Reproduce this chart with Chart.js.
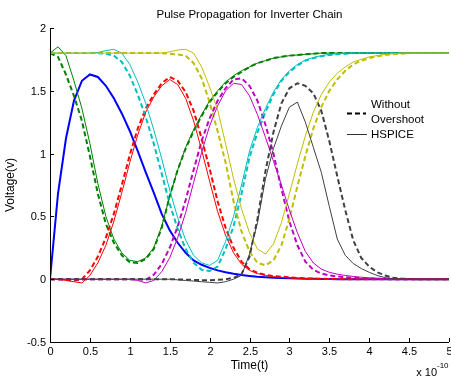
<!DOCTYPE html>
<html>
<head>
<meta charset="utf-8">
<script src="https://cdn.jsdelivr.net/npm/chart.js@4.4.1/dist/chart.umd.min.js"></script>
<style>
body { margin: 0; background: #fff; }
#marco { width: 451px; height: 379px; }
</style>
</head>
<body>
<div id="marco"><canvas id="grafica" width="451" height="379"></canvas></div>
<script>
// tiempo en unidades de 1e-10 s
const tiempos = [0, 0.1, 0.2, 0.3, 0.4, 0.5, 0.6, 0.7, 0.8, 0.9,
    1.0, 1.1, 1.2, 1.3, 1.4, 1.5, 1.6, 1.7, 1.8, 1.9,
    2.0, 2.1, 2.2, 2.3, 2.4, 2.5, 2.6, 2.7, 2.8, 2.9,
    3.0, 3.1, 3.2, 3.3, 3.4, 3.5, 3.6, 3.7, 3.8, 3.9,
    4.0, 4.1, 4.2, 4.3, 4.4, 4.5, 4.6, 4.7, 4.8, 4.9, 5.0];

const azul = [0, 0.68, 1.12, 1.42, 1.58, 1.63, 1.61, 1.54, 1.44, 1.32,
    1.18, 1.02, 0.85, 0.69, 0.52, 0.39, 0.29, 0.21, 0.15, 0.115,
    0.09, 0.07, 0.055, 0.043, 0.033, 0.026, 0.02, 0.016, 0.012, 0.009,
    0.007, 0.005, 0.004, 0.003, 0.002, 0.001, 0, 0, 0, 0,
    0, 0, 0, 0, 0, 0, 0, 0, 0, 0, 0];

const verdeSin = [1.8, 1.77, 1.63, 1.46, 1.26, 0.98, 0.68, 0.44, 0.29, 0.19,
    0.135, 0.13, 0.16, 0.24, 0.41, 0.66, 0.87, 1.04, 1.18, 1.30,
    1.41, 1.49, 1.56, 1.61, 1.65, 1.69, 1.72, 1.74, 1.76, 1.77,
    1.78, 1.785, 1.79, 1.795, 1.8, 1.8, 1.8, 1.8, 1.8, 1.8,
    1.8, 1.8, 1.8, 1.8, 1.8, 1.8, 1.8, 1.8, 1.8, 1.8, 1.8];
const verdeHspice = [1.8, 1.85, 1.78, 1.58, 1.36, 1.08, 0.76, 0.50, 0.32, 0.21,
    0.15, 0.14, 0.17, 0.25, 0.42, 0.66, 0.87, 1.05, 1.19, 1.31,
    1.42, 1.50, 1.57, 1.62, 1.66, 1.69, 1.72, 1.74, 1.76, 1.77,
    1.78, 1.785, 1.79, 1.795, 1.8, 1.8, 1.8, 1.8, 1.8, 1.8,
    1.8, 1.8, 1.8, 1.8, 1.8, 1.8, 1.8, 1.8, 1.8, 1.8, 1.8];

const rojoSin = [0, 0, -0.005, -0.01, 0, 0.07, 0.18, 0.33, 0.52, 0.75,
    0.99, 1.20, 1.36, 1.47, 1.56, 1.61, 1.58, 1.49, 1.34, 1.12,
    0.88, 0.62, 0.41, 0.25, 0.14, 0.08, 0.05, 0.035, 0.025, 0.02,
    0.015, 0.01, 0.007, 0.005, 0.003, 0.002, 0.001, 0, 0, 0,
    0, 0, 0, 0, 0, 0, 0, 0, 0, 0, 0];
const rojoHspice = [0, 0, -0.01, -0.02, -0.03, 0.03, 0.13, 0.27, 0.46, 0.69,
    0.93, 1.15, 1.33, 1.45, 1.54, 1.59, 1.55, 1.44, 1.26, 1.03,
    0.78, 0.54, 0.35, 0.21, 0.12, 0.07, 0.045, 0.03, 0.02, 0.015,
    0.01, 0.007, 0.005, 0.003, 0.002, 0.001, 0, 0, 0, 0,
    0, 0, 0, 0, 0, 0, 0, 0, 0, 0, 0];

const cianSin = [1.8, 1.8, 1.8, 1.8, 1.8, 1.8, 1.8, 1.795, 1.78, 1.73,
    1.62, 1.47, 1.29, 1.08, 0.84, 0.60, 0.40, 0.24, 0.13, 0.075,
    0.065, 0.10, 0.24, 0.42, 0.68, 0.97, 1.17, 1.33, 1.47, 1.58,
    1.65, 1.70, 1.74, 1.76, 1.775, 1.785, 1.79, 1.795, 1.8, 1.8,
    1.8, 1.8, 1.8, 1.8, 1.8, 1.8, 1.8, 1.8, 1.8, 1.8, 1.8];
const cianHspice = [1.8, 1.8, 1.8, 1.8, 1.8, 1.8, 1.805, 1.82, 1.83, 1.80,
    1.71, 1.57, 1.40, 1.19, 0.96, 0.71, 0.49, 0.31, 0.19, 0.13,
    0.11, 0.15, 0.30, 0.50, 0.75, 1.02, 1.21, 1.36, 1.49, 1.59,
    1.66, 1.71, 1.745, 1.765, 1.78, 1.79, 1.795, 1.8, 1.8, 1.8,
    1.8, 1.8, 1.8, 1.8, 1.8, 1.8, 1.8, 1.8, 1.8, 1.8, 1.8];

const magentaSin = [0, 0, 0, 0, 0, 0, 0, 0, 0, 0,
    0, 0, -0.005, 0.035, 0.12, 0.25, 0.42, 0.63, 0.87, 1.10,
    1.28, 1.42, 1.52, 1.59, 1.60, 1.54, 1.42, 1.23, 1.00, 0.72,
    0.46, 0.27, 0.14, 0.075, 0.045, 0.03, 0.022, 0.016, 0.011, 0.008,
    0.005, 0.003, 0.002, 0, 0, 0, 0, 0, 0, 0, 0];
const magentaHspice = [0, 0, 0, 0, 0, 0, 0, 0, 0, 0,
    0, -0.01, -0.03, -0.01, 0.06, 0.17, 0.33, 0.53, 0.77, 1.01,
    1.22, 1.38, 1.50, 1.56, 1.55, 1.46, 1.31, 1.13, 0.94, 0.75,
    0.55, 0.37, 0.22, 0.13, 0.08, 0.055, 0.04, 0.03, 0.022, 0.016,
    0.011, 0.008, 0.005, 0.003, 0.002, 0, 0, 0, 0, 0, 0];

const amarilloSin = [1.8, 1.8, 1.8, 1.8, 1.8, 1.8, 1.8, 1.8, 1.8, 1.8,
    1.8, 1.8, 1.8, 1.8, 1.8, 1.795, 1.79, 1.78, 1.72, 1.60,
    1.41, 1.18, 0.93, 0.62, 0.38, 0.22, 0.13, 0.11, 0.15, 0.27,
    0.48, 0.74, 0.98, 1.20, 1.37, 1.50, 1.59, 1.66, 1.71, 1.74,
    1.76, 1.775, 1.785, 1.79, 1.795, 1.8, 1.8, 1.8, 1.8, 1.8, 1.8];
const amarilloHspice = [1.8, 1.8, 1.8, 1.8, 1.8, 1.8, 1.8, 1.8, 1.8, 1.8,
    1.8, 1.8, 1.8, 1.8, 1.8, 1.81, 1.825, 1.83, 1.80, 1.69,
    1.53, 1.35, 1.08, 0.80, 0.56, 0.37, 0.24, 0.20, 0.28, 0.45,
    0.68, 0.92, 1.14, 1.33, 1.47, 1.57, 1.64, 1.69, 1.73, 1.75,
    1.77, 1.78, 1.79, 1.795, 1.8, 1.8, 1.8, 1.8, 1.8, 1.8, 1.8];

const negroSin = [0, 0, 0, 0, 0, 0, 0, 0, 0, 0,
    0, 0, 0, 0, 0, 0, -0.002, -0.004, -0.006, -0.008,
    -0.008, -0.005, 0, 0.01, 0.04, 0.18, 0.48, 0.86, 1.17, 1.40,
    1.52, 1.56, 1.54, 1.48, 1.34, 1.10, 0.82, 0.55, 0.31, 0.17,
    0.10, 0.055, 0.03, 0.012, 0.005, 0.002, 0, 0, 0, 0, 0];
const negroHspice = [0, 0, 0, 0, 0, 0, 0, 0, 0, 0,
    0, 0, 0, 0, 0, 0, -0.005, -0.01, -0.015, -0.02,
    -0.025, -0.03, -0.02, 0, 0.03, 0.20, 0.45, 0.80, 1.04, 1.22,
    1.37, 1.41, 1.25, 1.05, 0.85, 0.58, 0.32, 0.19, 0.125, 0.085,
    0.055, 0.03, 0.012, 0.005, 0.002, 0, 0, 0, 0, 0, 0];

const marcasX = [0, 0.5, 1, 1.5, 2, 2.5, 3, 3.5, 4, 4.5, 5];
const etiquetasX = ['0', '0.5', '1', '1.5', '2', '2.5', '3', '3.5', '4', '4.5', '5'];
const marcasY = [-0.5, 0, 0.5, 1, 1.5, 2];
const etiquetasY = ['-0.5', '0', '0.5', '1', '1.5', '2'];

const fuente = '"Liberation Sans", Arial, sans-serif';

function puntos(valores) {
    return tiempos.map((t, i) => ({ x: t, y: valores[i] }));
}

function serie(valores, color, grueso) {
    return {
        data: puntos(valores),
        borderColor: color,
        borderWidth: grueso ? 2 : 1,
        borderDash: grueso ? [5, 3] : [],
        pointRadius: 0,
        tension: 0,
        fill: false
    };
}

const ejesMatlab = {
    id: 'ejesMatlab',
    afterDraw(chart) {
        const ctx = chart.ctx;
        const area = chart.chartArea;
        const xs = chart.scales.x;
        const ys = chart.scales.y;
        ctx.save();
        ctx.strokeStyle = '#000';
        ctx.lineWidth = 1;
        ctx.setLineDash([]);
        ctx.beginPath();
        ctx.moveTo(area.left + 0.5, area.top);
        ctx.lineTo(area.left + 0.5, area.bottom + 0.5);
        ctx.lineTo(area.right, area.bottom + 0.5);
        ctx.stroke();

        ctx.fillStyle = '#000';
        ctx.font = '11px ' + fuente;
        ctx.textBaseline = 'middle';
        ctx.textAlign = 'center';
        marcasX.forEach((v, i) => {
            const px = Math.round(xs.getPixelForValue(v)) + 0.5;
            ctx.beginPath();
            ctx.moveTo(px, area.bottom);
            ctx.lineTo(px, area.bottom - 4);
            ctx.stroke();
            ctx.fillText(etiquetasX[i], px, area.bottom + 10);
        });
        ctx.textAlign = 'right';
        marcasY.forEach((v, i) => {
            const py = Math.round(ys.getPixelForValue(v)) + 0.5;
            ctx.beginPath();
            ctx.moveTo(area.left, py);
            ctx.lineTo(area.left + 4, py);
            ctx.stroke();
            ctx.fillText(etiquetasY[i], area.left - 4, py);
        });

        ctx.textAlign = 'center';
        ctx.font = '11.5px ' + fuente;
        ctx.fillText('Pulse Propagation for Inverter Chain', (area.left + area.right) / 2, 15);
        ctx.font = '12px ' + fuente;
        ctx.fillText('Time(t)', (area.left + area.right) / 2, 366);
        ctx.save();
        ctx.translate(11, 185);
        ctx.rotate(-Math.PI / 2);
        ctx.fillText('Voltage(v)', 0, 0);
        ctx.restore();

        ctx.font = '11px ' + fuente;
        ctx.textAlign = 'right';
        ctx.fillText('x 10', 437, 373);
        ctx.textAlign = 'left';
        ctx.font = '8px ' + fuente;
        ctx.fillText('-10', 437, 366);

        // leyenda
        ctx.font = '11.5px ' + fuente;
        ctx.fillText('Without', 371, 105);
        ctx.fillText('Overshoot', 371, 120);
        ctx.fillText('HSPICE', 371, 135);
        ctx.strokeStyle = '#000';
        ctx.lineWidth = 2;
        ctx.setLineDash([5, 3]);
        ctx.beginPath();
        ctx.moveTo(347, 113.5);
        ctx.lineTo(366, 113.5);
        ctx.stroke();
        ctx.setLineDash([]);
        ctx.lineWidth = 1;
        ctx.strokeStyle = '#333';
        ctx.beginPath();
        ctx.moveTo(347, 134.5);
        ctx.lineTo(367, 134.5);
        ctx.stroke();
        ctx.restore();
    }
};

const ctx = document.getElementById('grafica').getContext('2d');
const myChart = new Chart(ctx, {
    type: 'line',
    data: {
        datasets: [
            serie(negroHspice, '#404040', false),
            serie(amarilloHspice, '#bfbf00', false),
            serie(magentaHspice, '#bf00bf', false),
            serie(cianHspice, '#00bfbf', false),
            serie(rojoHspice, '#ff0000', false),
            serie(verdeHspice, '#008000', false),
            serie(negroSin, '#404040', true),
            serie(amarilloSin, '#bfbf00', true),
            serie(magentaSin, '#bf00bf', true),
            serie(cianSin, '#00bfbf', true),
            serie(rojoSin, '#ff0000', true),
            serie(verdeSin, '#008000', true),
            {
                data: puntos(azul),
                borderColor: '#0000ff',
                borderWidth: 2,
                pointRadius: 0,
                tension: 0,
                fill: false
            }
        ]
    },
    options: {
        responsive: false,
        animation: false,
        layout: { padding: { left: 50, top: 28, right: 2, bottom: 37 } },
        scales: {
            x: { type: 'linear', min: 0, max: 5, display: false },
            y: { type: 'linear', min: -0.5, max: 2, display: false }
        },
        plugins: {
            legend: { display: false },
            tooltip: { enabled: false },
            title: { display: false }
        }
    },
    plugins: [ejesMatlab]
});
</script>
</body>
</html>
